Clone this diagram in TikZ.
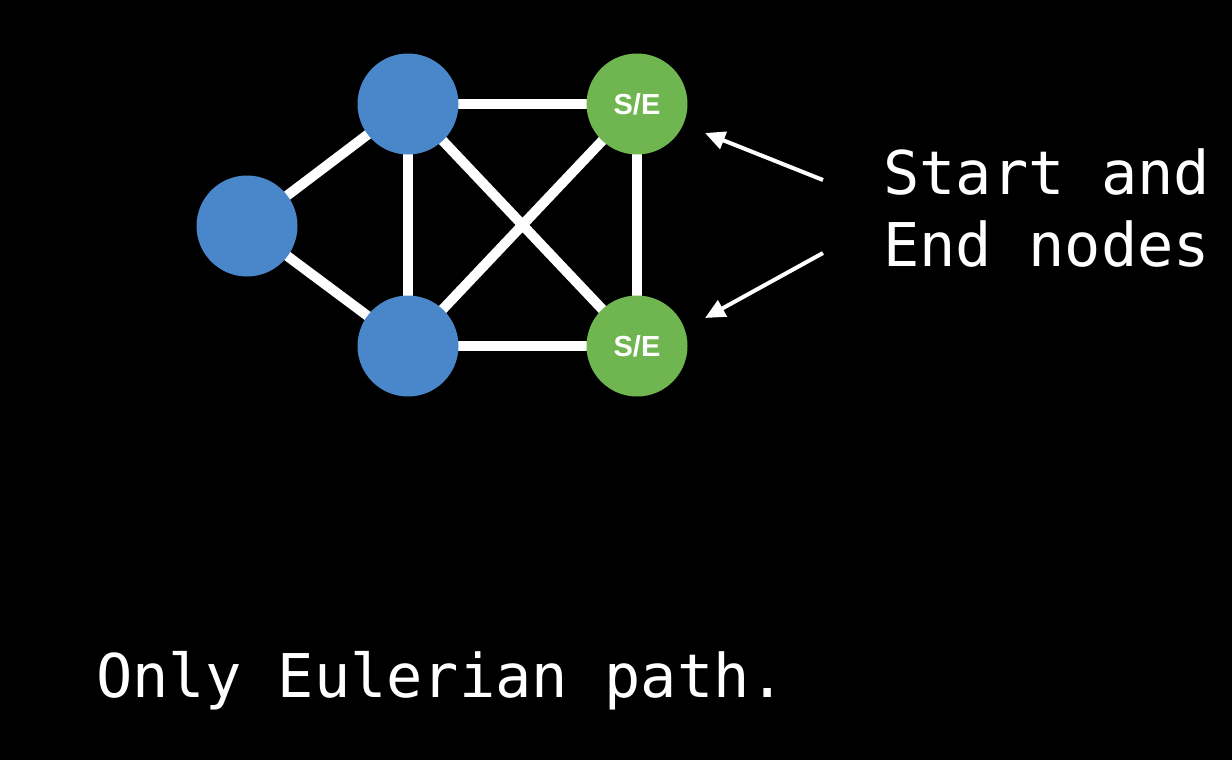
\documentclass[tikz,border=0pt]{standalone}
\usepackage{fontspec}
\newfontfamily\monofont{DejaVu Sans Mono}
\newfontfamily\labfont{Liberation Sans}
\usetikzlibrary{arrows.meta,backgrounds}
\definecolor{nodeblue}{RGB}{74,134,202}
\definecolor{nodegreen}{RGB}{112,182,80}
\tikzset{
  vert/.style={circle, minimum size=101pt, inner sep=0pt, draw=none},
  bluevert/.style={vert, fill=nodeblue},
  greenvert/.style={vert, fill=nodegreen, text=white, font=\labfont\bfseries\fontsize{29}{32}\selectfont},
  graphedge/.style={white, line width=10pt},
  pointer/.style={white, line width=4pt, -{Triangle[length=20pt,width=18pt]}},
  bigtext/.style={text=white, font=\monofont\fontsize{60.3}{72}\selectfont, inner sep=0pt, anchor=base west},
}
\begin{document}
\begin{tikzpicture}[x=1pt,y=-1pt]
\useasboundingbox (0,0) rectangle (1232,760);
\node[bluevert] (a) at (408,104) {};
\node[greenvert] (b) at (637,104) {S/E};
\node[bluevert] (c) at (247,226) {};
\node[bluevert] (d) at (408,346) {};
\node[greenvert] (e) at (637,346) {S/E};
\begin{pgfonlayer}{background}
\fill[black] (0,0) rectangle (1232,760);
\draw[graphedge] (a.center) -- (b.center);
\draw[graphedge] (a.center) -- (c.center);
\draw[graphedge] (a.center) -- (d.center);
\draw[graphedge] (a.center) -- (e.center);
\draw[graphedge] (b.center) -- (d.center);
\draw[graphedge] (b.center) -- (e.center);
\draw[graphedge] (c.center) -- (d.center);
\draw[graphedge] (d.center) -- (e.center);
\end{pgfonlayer}
\node[bigtext] (t1) at (883,194) {Start and};
\node[bigtext] (t2) at (883,266) {End nodes};
\coordinate (p1) at (823,180);
\coordinate (p2) at (823,253);
\coordinate (q1) at (705,133);
\coordinate (q2) at (705,318);
\draw[pointer] (p1) -- (q1);
\draw[pointer] (p2) -- (q2);
\node[bigtext] (cap) at (96,697) {Only Eulerian path.};
\end{tikzpicture}
\end{document}
